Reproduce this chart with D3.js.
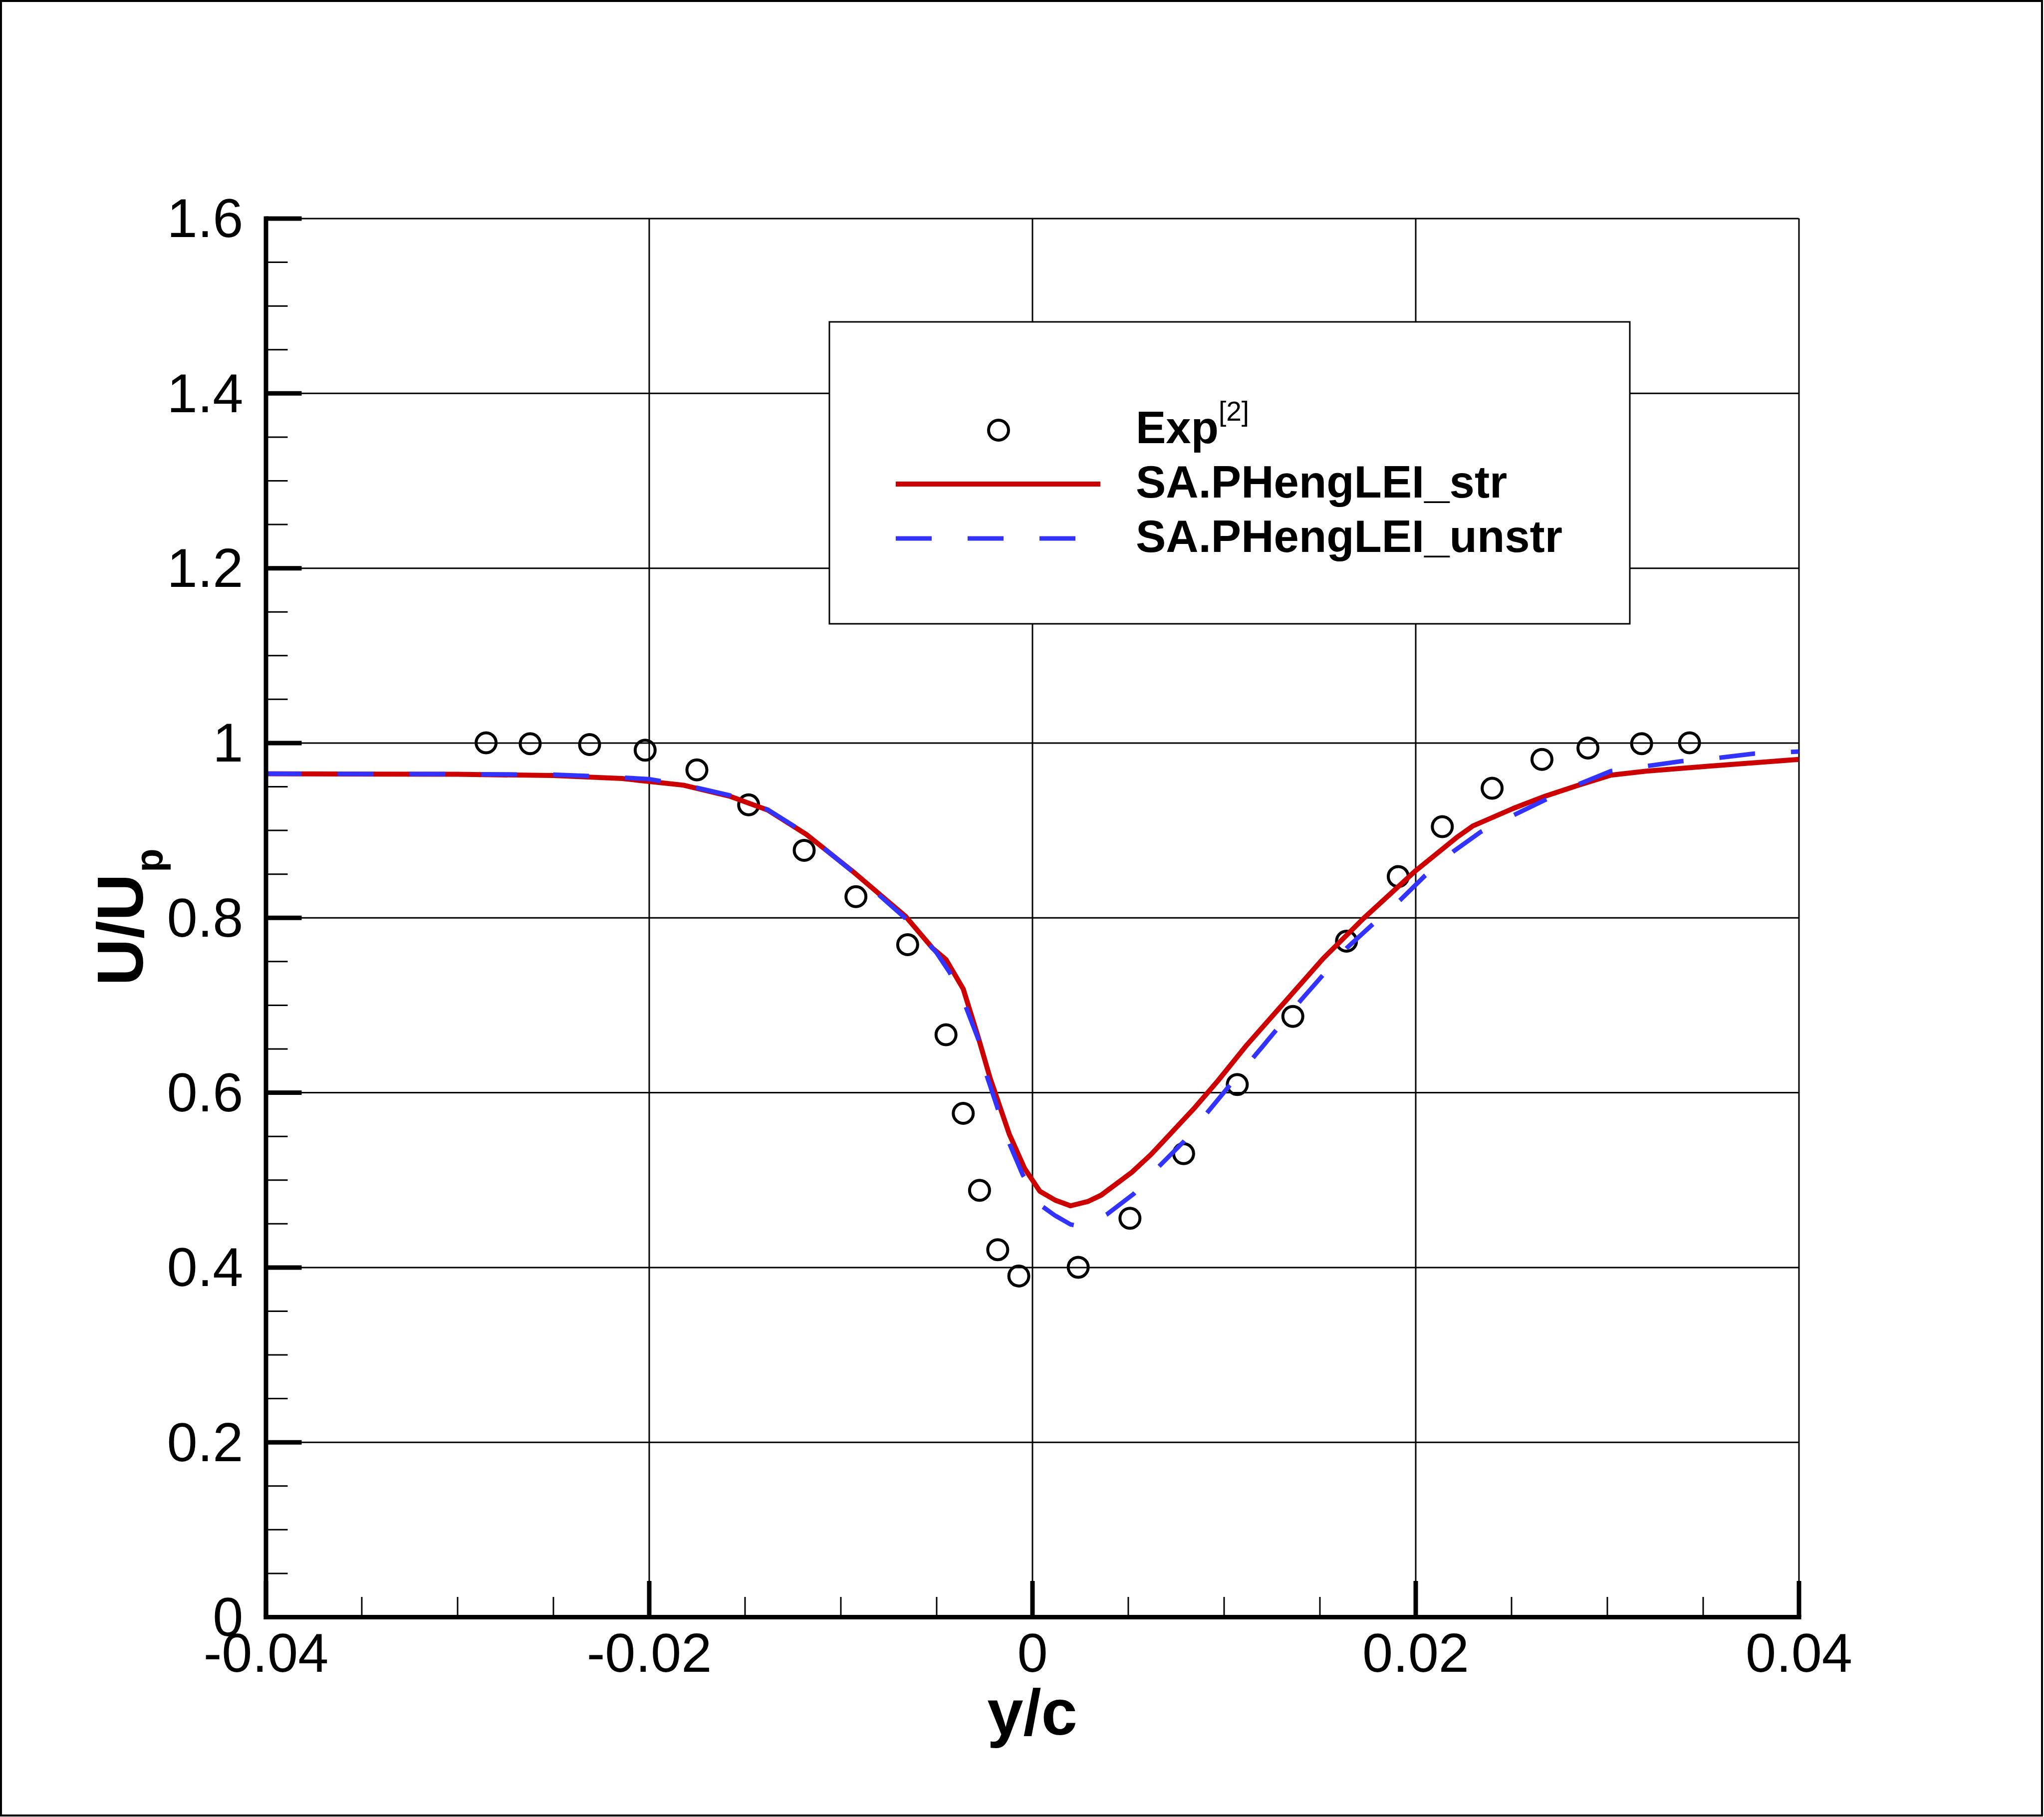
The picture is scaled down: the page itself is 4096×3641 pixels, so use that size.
<!DOCTYPE html>
<html><head><meta charset="utf-8">
<script src="https://cdn.jsdelivr.net/npm/d3@7"></script>
<style>
html,body{margin:0;padding:0;background:#fff;}
svg{display:block;}
text{font-family:"Liberation Sans",Arial,Helvetica,sans-serif;}
</style>
</head><body>
<svg id="chart" width="4096" height="3641"></svg>
<script>
// ---------- data ----------
const seriesNames = ["Exp", "SA.PHengLEI_str", "SA.PHengLEI_unstr"];

const expX = [-0.0285,-0.0262,-0.0231,-0.0202,-0.0175,-0.0148,-0.0119,-0.0092,-0.0065,-0.0045,-0.0036,-0.00275,-0.0018,-0.0007,0.0024,0.0051,0.0079,0.0107,0.0136,0.0164,0.0191,0.0214,0.0240,0.0266,0.0290,0.0318,0.0343];
const expU = [1.000,0.999,0.998,0.9915,0.969,0.929,0.877,0.824,0.769,0.666,0.576,0.488,0.420,0.390,0.400,0.456,0.530,0.609,0.687,0.773,0.847,0.904,0.948,0.981,0.994,0.999,1.000];

const strX = [-0.04,-0.03,-0.025,-0.0214,-0.0182,-0.0158,-0.0138,-0.0118,-0.0094,-0.0066,-0.0052,-0.0045,-0.0036,-0.0028,-0.0022,-0.0012,-0.0004,0.0004,0.0012,0.0020,0.0029,0.0036,0.0052,0.0062,0.0072,0.0085,0.0097,0.0112,0.0152,0.0173,0.0200,0.0222,0.0230,0.0251,0.0268,0.0285,0.0302,0.0321,0.0354,0.0400];
const strU = [0.9645,0.9640,0.9625,0.9591,0.9515,0.939,0.923,0.8954,0.8535,0.8012,0.765,0.752,0.7184,0.6617,0.6165,0.5524,0.5131,0.4869,0.4767,0.4703,0.4752,0.4825,0.5087,0.529,0.5524,0.583,0.6136,0.6543,0.7536,0.7993,0.8535,0.8925,0.9049,0.9249,0.9392,0.9515,0.963,0.9677,0.9734,0.981];

const unstrX = [-0.04,-0.03,-0.025,-0.022,-0.020,-0.018,-0.0158,-0.0138,-0.0118,-0.0094,-0.0066,-0.0050,-0.0043,-0.0035,-0.0028,-0.0024,-0.0018,-0.0012,-0.0005,0.0005,0.0012,0.0020,0.0027,0.0039,0.0053,0.0066,0.0079,0.0091,0.0103,0.0120,0.0140,0.0164,0.0178,0.0192,0.0205,0.0220,0.0234,0.0251,0.0268,0.0285,0.0302,0.0321,0.0339,0.0359,0.0377,0.0400];
const unstrU = [0.9645,0.9642,0.9635,0.961,0.9585,0.951,0.940,0.9235,0.896,0.853,0.799,0.760,0.737,0.700,0.660,0.621,0.5815,0.542,0.506,0.470,0.459,0.449,0.446,0.4606,0.484,0.515,0.5436,0.576,0.608,0.652,0.705,0.765,0.793,0.820,0.848,0.876,0.898,0.917,0.935,0.9525,0.9677,0.9734,0.979,0.983,0.9877,0.990];

const xTickValues = [-0.04,-0.02,0,0.02,0.04];
const xTickLabels = ["-0.04","-0.02","0","0.02","0.04"];
const yTickValues = [0,0.2,0.4,0.6,0.8,1.0,1.2,1.4,1.6];
const yTickLabels = ["0","0.2","0.4","0.6","0.8","1","1.2","1.4","1.6"];
const xMinorValues = d3.range(-0.04, 0.0401, 0.005).map(v => +v.toFixed(4)).filter(v => !xTickValues.some(t => Math.abs(t - v) < 1e-9));
const yMinorValues = d3.range(0, 1.601, 0.05).map(v => +v.toFixed(3)).filter(v => !yTickValues.some(t => Math.abs(t - v) < 1e-9));

// ---------- layout ----------
const svg = d3.select("#chart");
const L = 532.5, R = 3604.5, T = 437.5, B = 3240;
const x = d3.scaleLinear().domain([-0.04, 0.04]).range([L, R]);
const y = d3.scaleLinear().domain([0, 1.6]).range([B, T]);

svg.append("rect").attr("x",0).attr("y",0).attr("width",4096).attr("height",3641).attr("fill","#fff");
svg.append("rect").attr("x",2).attr("y",2).attr("width",4090).attr("height",3636)
  .attr("fill","none").attr("stroke","#000").attr("stroke-width",4);

// grid
const gridY = svg.append("g").attr("transform",`translate(${L},0)`)
  .call(d3.axisLeft(y).tickValues(yTickValues.slice(1)).tickSize(-(R-L)).tickFormat(""));
gridY.select(".domain").remove();
gridY.selectAll("line").attr("stroke","#000").attr("stroke-width",3);

const gridX = svg.append("g").attr("transform",`translate(0,${B})`)
  .call(d3.axisBottom(x).tickValues(xTickValues.slice(1)).tickSize(-(B-T)).tickFormat(""));
gridX.select(".domain").remove();
gridX.selectAll("line").attr("stroke","#000").attr("stroke-width",3);

// data
const pts = (xs, ys) => xs.map((v,i) => [v, ys[i]]);
const line = d3.line().x(d => x(d[0])).y(d => y(d[1]));

svg.append("g").selectAll("circle").data(pts(expX, expU)).join("circle")
  .attr("cx", d => x(d[0])).attr("cy", d => y(d[1])).attr("r", 20)
  .attr("fill","none").attr("stroke","#000").attr("stroke-width",6);

svg.append("path").datum(pts(strX, strU)).attr("d", line)
  .attr("fill","none").attr("stroke","#cc0000").attr("stroke-width",10).attr("stroke-linejoin","round");

svg.append("path").datum(pts(unstrX, unstrU)).attr("d", line)
  .attr("fill","none").attr("stroke","#3333ff").attr("stroke-width",9).attr("stroke-dasharray","72,72");

// axes
const fontTick = 110;
const yAxis = svg.append("g").attr("transform",`translate(${L},0)`)
  .call(d3.axisLeft(y).tickValues(yTickValues).tickSize(-72).tickSizeOuter(0).tickPadding(45)
    .tickFormat((d,i) => yTickLabels[i]));
yAxis.select(".domain").attr("stroke","#000").attr("stroke-width",9).attr("stroke-linecap","square");
yAxis.selectAll("line").attr("stroke","#000").attr("stroke-width",9);
yAxis.selectAll("text").attr("font-size",fontTick).attr("fill","#000").attr("dy","0.34em")
  .attr("font-family",'"Liberation Sans",Arial,Helvetica,sans-serif');

const yMinor = svg.append("g").attr("transform",`translate(${L},0)`)
  .call(d3.axisLeft(y).tickValues(yMinorValues).tickSize(-44).tickFormat(""));
yMinor.select(".domain").remove();
yMinor.selectAll("line").attr("stroke","#000").attr("stroke-width",3);

const xAxis = svg.append("g").attr("transform",`translate(0,${B})`)
  .call(d3.axisBottom(x).tickValues(xTickValues).tickSize(-72).tickSizeOuter(0).tickPadding(32)
    .tickFormat((d,i) => xTickLabels[i]));
xAxis.select(".domain").attr("stroke","#000").attr("stroke-width",9).attr("stroke-linecap","square");
xAxis.selectAll("line").attr("stroke","#000").attr("stroke-width",9);
xAxis.selectAll("text").attr("font-size",fontTick).attr("fill","#000")
  .attr("font-family",'"Liberation Sans",Arial,Helvetica,sans-serif');

const xMinor = svg.append("g").attr("transform",`translate(0,${B})`)
  .call(d3.axisBottom(x).tickValues(xMinorValues).tickSize(-40).tickFormat(""));
xMinor.select(".domain").remove();
xMinor.selectAll("line").attr("stroke","#000").attr("stroke-width",3);

// axis titles
svg.append("text").attr("x", x(0)).attr("y", 3476).attr("text-anchor","middle")
  .attr("font-size",130).attr("font-weight","bold").text("y/c");

const yt = svg.append("text").attr("transform","translate(286,1975) rotate(-90)")
  .attr("font-size",130).attr("font-weight","bold");
yt.append("tspan").text("U/U");
yt.append("tspan").attr("font-size",78).attr("dy",40).attr("dx",3).text("p");

// legend
const lg = svg.append("g");
lg.append("rect").attr("x",1662).attr("y",645).attr("width",1604).attr("height",605)
  .attr("fill","#fff").attr("stroke","#000").attr("stroke-width",3);
lg.append("circle").attr("cx",2001).attr("cy",862).attr("r",20)
  .attr("fill","none").attr("stroke","#000").attr("stroke-width",6);
lg.append("line").attr("x1",1795).attr("x2",2205).attr("y1",970).attr("y2",970)
  .attr("stroke","#cc0000").attr("stroke-width",10);
lg.append("line").attr("x1",1795).attr("x2",2205).attr("y1",1079).attr("y2",1079)
  .attr("stroke","#3333ff").attr("stroke-width",9).attr("stroke-dasharray","72,72");

const t1 = lg.append("text").attr("x",2276).attr("y",888).attr("font-size",90.5).attr("font-weight","bold");
t1.append("tspan").text(seriesNames[0]);
t1.append("tspan").attr("font-size",55).attr("font-weight","normal").attr("dy",-45).text("[2]");
lg.append("text").attr("x",2276).attr("y",997).attr("font-size",90.5).attr("font-weight","bold").text(seriesNames[1]);
lg.append("text").attr("x",2276).attr("y",1106).attr("font-size",90.5).attr("font-weight","bold").text(seriesNames[2]);
</script>
</body></html>
